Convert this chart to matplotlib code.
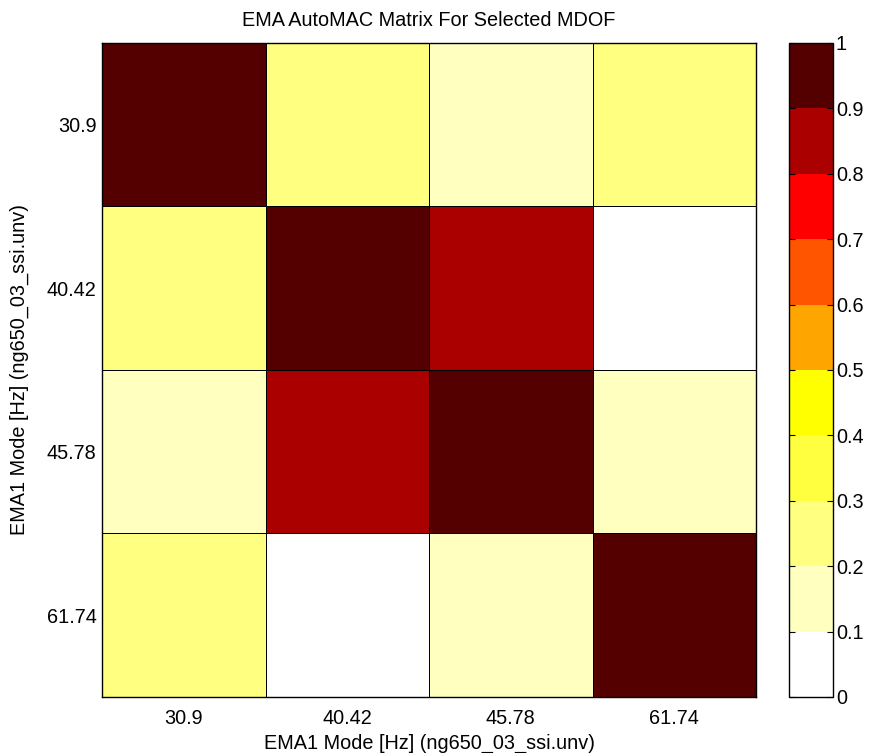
import numpy as np
import matplotlib.pyplot as plt
from matplotlib.colors import ListedColormap, BoundaryNorm

plt.rcParams['font.family'] = ['Liberation Sans', 'DejaVu Sans']

modes = ["30.9", "40.42", "45.78", "61.74"]
mac = [
    [1.00, 0.25, 0.15, 0.25],
    [0.25, 1.00, 0.85, 0.05],
    [0.15, 0.85, 1.00, 0.15],
    [0.25, 0.05, 0.15, 1.00],
]
levels = [0, 0.1, 0.2, 0.3, 0.4, 0.5, 0.6, 0.7, 0.8, 0.9, 1.0]
level_labels = ["0", "0.1", "0.2", "0.3", "0.4", "0.5", "0.6", "0.7", "0.8", "0.9", "1"]
band_colors = ["#FFFFFF", "#FFFFC0", "#FFFF80", "#FFFF40", "#FFFF00",
               "#FFA500", "#FF5500", "#FF0000", "#AA0000", "#550000"]

cmap = ListedColormap(band_colors)
norm = BoundaryNorm(levels, cmap.N)
fs = 14.3

fig = plt.figure(figsize=(8.69, 7.53), dpi=100)
ax = fig.add_axes([0.1174, 0.0744, 0.7526, 0.8685])
cax = fig.add_axes([0.908, 0.0744, 0.0506, 0.8685])

data = np.array(mac)
mesh = ax.pcolormesh(np.arange(len(modes) + 1), np.arange(len(modes) + 1), data,
                     cmap=cmap, norm=norm, edgecolors='k', linewidth=0.6)
ax.set_xlim(0, len(modes))
ax.set_ylim(len(modes), 0)
ax.set_xticks(np.arange(len(modes)) + 0.5)
ax.set_yticks(np.arange(len(modes)) + 0.5)
ax.set_xticklabels(modes, fontsize=fs)
ax.set_yticklabels(modes, fontsize=fs)
ax.tick_params(axis='x', length=0, pad=9)
ax.tick_params(axis='y', length=0, pad=4)
ax.set_xlabel("EMA1 Mode [Hz] (ng650_03_ssi.unv)", fontsize=fs, labelpad=4)
ax.set_ylabel("EMA1 Mode [Hz] (ng650_03_ssi.unv)", fontsize=fs, labelpad=13)
ax.set_title("EMA AutoMAC Matrix For Selected MDOF", fontsize=fs, pad=12)

cb = fig.colorbar(mesh, cax=cax, ticks=levels)
cb.ax.set_yticklabels(level_labels)
cb.ax.tick_params(direction='in', left=True, right=True, labelsize=fs, length=4, pad=2)
cb.outline.set_linewidth(1)
for sp in ax.spines.values():
    sp.set_linewidth(1)

fig.savefig("out.png", dpi=100)
